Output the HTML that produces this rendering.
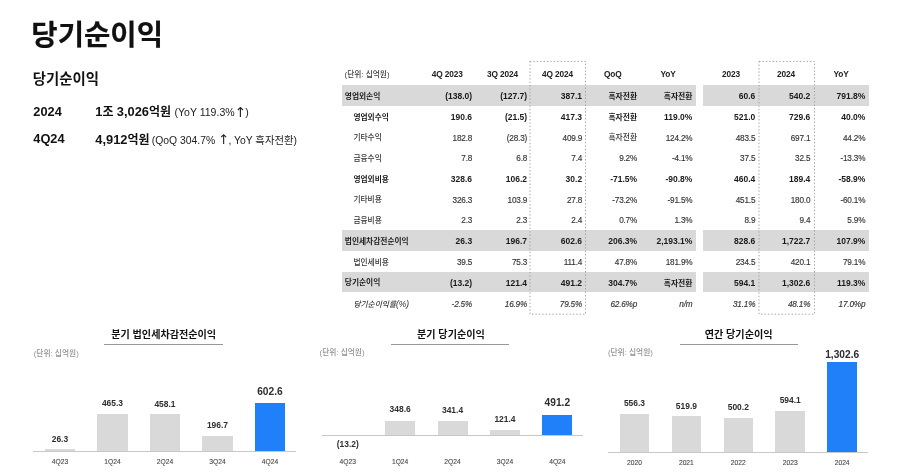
<!DOCTYPE html>
<html lang="ko"><head><meta charset="utf-8"><title>당기순이익</title>
<style>
html,body{margin:0;padding:0;background:#fff;}
body{width:900px;height:476px;position:relative;overflow:hidden;font-family:"Liberation Sans","Noto Sans CJK KR",sans-serif;-webkit-font-smoothing:antialiased;}
.t{position:absolute;white-space:nowrap;margin:0;padding:0;}
.r{position:absolute;}
.s{font-weight:400;font-size:10.55px;color:#222;}
.ar{font-family:"DejaVu Sans","Liberation Sans",sans-serif;display:inline-block;width:0.77em;text-align:center;font-size:1.3em;line-height:1;vertical-align:-0.04em;}
</style></head><body>
<div class="t" style="top:13.18px;height:45.84px;line-height:45.84px;font-size:28.65px;font-weight:700;color:#111;left:31.30px;-webkit-text-stroke:0.15px #111;">당기순이익</div>
<div class="t" style="top:68.18px;height:23.04px;line-height:23.04px;font-size:14.4px;font-weight:700;color:#111;left:32.80px;">당기순이익</div>
<div class="t" style="top:101.96px;height:20.48px;line-height:20.48px;font-size:12.8px;font-weight:700;color:#111;left:33.30px;">2024</div>
<div class="t" style="top:102.00px;height:19.2px;line-height:19.2px;font-size:12.0px;font-weight:700;color:#111;left:95.30px;"><span style="font-size:1.073em">1</span>조 <span style="font-size:1.073em">3,026</span>억원 <span class="s">(YoY 119.3%<span class="ar">↑</span>)</span></div>
<div class="t" style="top:129.16px;height:20.48px;line-height:20.48px;font-size:12.8px;font-weight:700;color:#111;left:33.30px;">4Q24</div>
<div class="t" style="top:129.80px;height:19.2px;line-height:19.2px;font-size:12.0px;font-weight:700;color:#111;left:95.30px;"><span style="font-size:1.073em">4,912</span>억원 <span class="s" style="font-size:10.38px;margin-left:-1.2px">(QoQ 304.7% <span class="ar">↑</span>, YoY 흑자전환)</span></div>
<div class="r" style="left:342.00px;top:85.15px;width:353.70px;height:20.40px;background:#d9d9d9;"></div>
<div class="r" style="left:703.20px;top:85.15px;width:165.50px;height:20.40px;background:#d9d9d9;"></div>
<div class="r" style="left:342.00px;top:230.26px;width:353.70px;height:20.40px;background:#d9d9d9;"></div>
<div class="r" style="left:703.20px;top:230.26px;width:165.50px;height:20.40px;background:#d9d9d9;"></div>
<div class="r" style="left:342.00px;top:271.72px;width:353.70px;height:20.40px;background:#d9d9d9;"></div>
<div class="r" style="left:703.20px;top:271.72px;width:165.50px;height:20.40px;background:#d9d9d9;"></div>
<div class="t" style="top:68.72px;height:12.35px;line-height:12.35px;font-size:7.72px;font-weight:500;color:#404040;left:344.60px;">(단위: 십억원)</div>
<div class="t" style="top:67.96px;height:13.28px;line-height:13.28px;font-size:8.3px;font-weight:700;color:#222;left:417.30px;width:60px;text-align:center;letter-spacing:-0.12px;">4Q 2023</div>
<div class="t" style="top:67.96px;height:13.28px;line-height:13.28px;font-size:8.3px;font-weight:700;color:#222;left:472.50px;width:60px;text-align:center;letter-spacing:-0.12px;">3Q 2024</div>
<div class="t" style="top:67.96px;height:13.28px;line-height:13.28px;font-size:8.3px;font-weight:700;color:#222;left:527.50px;width:60px;text-align:center;letter-spacing:-0.12px;">4Q 2024</div>
<div class="t" style="top:67.96px;height:13.28px;line-height:13.28px;font-size:8.3px;font-weight:700;color:#222;left:582.80px;width:60px;text-align:center;letter-spacing:-0.12px;">QoQ</div>
<div class="t" style="top:67.96px;height:13.28px;line-height:13.28px;font-size:8.3px;font-weight:700;color:#222;left:638.00px;width:60px;text-align:center;letter-spacing:-0.12px;">YoY</div>
<div class="t" style="top:67.96px;height:13.28px;line-height:13.28px;font-size:8.3px;font-weight:700;color:#222;left:701.00px;width:60px;text-align:center;letter-spacing:-0.12px;">2023</div>
<div class="t" style="top:67.96px;height:13.28px;line-height:13.28px;font-size:8.3px;font-weight:700;color:#222;left:756.00px;width:60px;text-align:center;letter-spacing:-0.12px;">2024</div>
<div class="t" style="top:67.96px;height:13.28px;line-height:13.28px;font-size:8.3px;font-weight:700;color:#222;left:811.00px;width:60px;text-align:center;letter-spacing:-0.12px;">YoY</div>
<div class="t" style="top:91.03px;height:12.35px;line-height:12.35px;font-size:7.72px;font-weight:700;color:#1a1a1a;left:344.80px;">영업외손익</div>
<div class="t" style="top:90.00px;height:13.6px;line-height:13.6px;font-size:8.5px;font-weight:700;color:#1a1a1a;right:427.90px;text-align:right;">(138.0)</div>
<div class="t" style="top:90.00px;height:13.6px;line-height:13.6px;font-size:8.5px;font-weight:700;color:#1a1a1a;right:372.90px;text-align:right;">(127.7)</div>
<div class="t" style="top:90.00px;height:13.6px;line-height:13.6px;font-size:8.5px;font-weight:700;color:#1a1a1a;right:317.90px;text-align:right;">387.1</div>
<div class="t" style="top:90.56px;height:12.48px;line-height:12.48px;font-size:7.8px;font-weight:700;color:#1a1a1a;right:262.90px;text-align:right;">흑자전환</div>
<div class="t" style="top:90.56px;height:12.48px;line-height:12.48px;font-size:7.8px;font-weight:700;color:#1a1a1a;right:207.60px;text-align:right;">흑자전환</div>
<div class="t" style="top:90.00px;height:13.6px;line-height:13.6px;font-size:8.5px;font-weight:700;color:#1a1a1a;right:144.70px;text-align:right;">60.6</div>
<div class="t" style="top:90.00px;height:13.6px;line-height:13.6px;font-size:8.5px;font-weight:700;color:#1a1a1a;right:89.70px;text-align:right;">540.2</div>
<div class="t" style="top:90.00px;height:13.6px;line-height:13.6px;font-size:8.5px;font-weight:700;color:#1a1a1a;right:34.70px;text-align:right;">791.8%</div>
<div class="t" style="top:112.01px;height:12.35px;line-height:12.35px;font-size:7.72px;font-weight:700;color:#1a1a1a;left:353.40px;">영업외수익</div>
<div class="t" style="top:110.98px;height:13.6px;line-height:13.6px;font-size:8.5px;font-weight:700;color:#1a1a1a;right:427.90px;text-align:right;">190.6</div>
<div class="t" style="top:110.98px;height:13.6px;line-height:13.6px;font-size:8.5px;font-weight:700;color:#1a1a1a;right:372.90px;text-align:right;">(21.5)</div>
<div class="t" style="top:110.98px;height:13.6px;line-height:13.6px;font-size:8.5px;font-weight:700;color:#1a1a1a;right:317.90px;text-align:right;">417.3</div>
<div class="t" style="top:111.54px;height:12.48px;line-height:12.48px;font-size:7.8px;font-weight:700;color:#1a1a1a;right:262.90px;text-align:right;">흑자전환</div>
<div class="t" style="top:110.98px;height:13.6px;line-height:13.6px;font-size:8.5px;font-weight:700;color:#1a1a1a;right:207.60px;text-align:right;">119.0%</div>
<div class="t" style="top:110.98px;height:13.6px;line-height:13.6px;font-size:8.5px;font-weight:700;color:#1a1a1a;right:144.70px;text-align:right;">521.0</div>
<div class="t" style="top:110.98px;height:13.6px;line-height:13.6px;font-size:8.5px;font-weight:700;color:#1a1a1a;right:89.70px;text-align:right;">729.6</div>
<div class="t" style="top:110.98px;height:13.6px;line-height:13.6px;font-size:8.5px;font-weight:700;color:#1a1a1a;right:34.70px;text-align:right;">40.0%</div>
<div class="t" style="top:131.98px;height:12.35px;line-height:12.35px;font-size:7.72px;font-weight:500;color:#363636;left:353.40px;">기타수익</div>
<div class="t" style="top:131.95px;height:13.12px;line-height:13.12px;font-size:8.2px;font-weight:400;color:#363636;right:427.90px;text-align:right;-webkit-text-stroke:0.15px #363636;letter-spacing:-0.18px;">182.8</div>
<div class="t" style="top:131.95px;height:13.12px;line-height:13.12px;font-size:8.2px;font-weight:400;color:#363636;right:372.90px;text-align:right;-webkit-text-stroke:0.15px #363636;letter-spacing:-0.18px;">(28.3)</div>
<div class="t" style="top:131.95px;height:13.12px;line-height:13.12px;font-size:8.2px;font-weight:400;color:#363636;right:317.90px;text-align:right;-webkit-text-stroke:0.15px #363636;letter-spacing:-0.18px;">409.9</div>
<div class="t" style="top:132.27px;height:12.48px;line-height:12.48px;font-size:7.8px;font-weight:500;color:#363636;right:262.90px;text-align:right;">흑자전환</div>
<div class="t" style="top:131.95px;height:13.12px;line-height:13.12px;font-size:8.2px;font-weight:400;color:#363636;right:207.60px;text-align:right;-webkit-text-stroke:0.15px #363636;letter-spacing:-0.18px;">124.2%</div>
<div class="t" style="top:131.95px;height:13.12px;line-height:13.12px;font-size:8.2px;font-weight:400;color:#363636;right:144.70px;text-align:right;-webkit-text-stroke:0.15px #363636;letter-spacing:-0.18px;">483.5</div>
<div class="t" style="top:131.95px;height:13.12px;line-height:13.12px;font-size:8.2px;font-weight:400;color:#363636;right:89.70px;text-align:right;-webkit-text-stroke:0.15px #363636;letter-spacing:-0.18px;">697.1</div>
<div class="t" style="top:131.95px;height:13.12px;line-height:13.12px;font-size:8.2px;font-weight:400;color:#363636;right:34.70px;text-align:right;-webkit-text-stroke:0.15px #363636;letter-spacing:-0.18px;">44.2%</div>
<div class="t" style="top:152.96px;height:12.35px;line-height:12.35px;font-size:7.72px;font-weight:500;color:#363636;left:353.40px;">금융수익</div>
<div class="t" style="top:151.93px;height:13.12px;line-height:13.12px;font-size:8.2px;font-weight:400;color:#363636;right:427.90px;text-align:right;-webkit-text-stroke:0.15px #363636;letter-spacing:-0.18px;">7.8</div>
<div class="t" style="top:151.93px;height:13.12px;line-height:13.12px;font-size:8.2px;font-weight:400;color:#363636;right:372.90px;text-align:right;-webkit-text-stroke:0.15px #363636;letter-spacing:-0.18px;">6.8</div>
<div class="t" style="top:151.93px;height:13.12px;line-height:13.12px;font-size:8.2px;font-weight:400;color:#363636;right:317.90px;text-align:right;-webkit-text-stroke:0.15px #363636;letter-spacing:-0.18px;">7.4</div>
<div class="t" style="top:151.93px;height:13.12px;line-height:13.12px;font-size:8.2px;font-weight:400;color:#363636;right:262.90px;text-align:right;-webkit-text-stroke:0.15px #363636;letter-spacing:-0.18px;">9.2%</div>
<div class="t" style="top:151.93px;height:13.12px;line-height:13.12px;font-size:8.2px;font-weight:400;color:#363636;right:207.60px;text-align:right;-webkit-text-stroke:0.15px #363636;letter-spacing:-0.18px;">-4.1%</div>
<div class="t" style="top:151.93px;height:13.12px;line-height:13.12px;font-size:8.2px;font-weight:400;color:#363636;right:144.70px;text-align:right;-webkit-text-stroke:0.15px #363636;letter-spacing:-0.18px;">37.5</div>
<div class="t" style="top:151.93px;height:13.12px;line-height:13.12px;font-size:8.2px;font-weight:400;color:#363636;right:89.70px;text-align:right;-webkit-text-stroke:0.15px #363636;letter-spacing:-0.18px;">32.5</div>
<div class="t" style="top:151.93px;height:13.12px;line-height:13.12px;font-size:8.2px;font-weight:400;color:#363636;right:34.70px;text-align:right;-webkit-text-stroke:0.15px #363636;letter-spacing:-0.18px;">-13.3%</div>
<div class="t" style="top:173.94px;height:12.35px;line-height:12.35px;font-size:7.72px;font-weight:700;color:#1a1a1a;left:353.40px;">영업외비용</div>
<div class="t" style="top:172.92px;height:13.6px;line-height:13.6px;font-size:8.5px;font-weight:700;color:#1a1a1a;right:427.90px;text-align:right;">328.6</div>
<div class="t" style="top:172.92px;height:13.6px;line-height:13.6px;font-size:8.5px;font-weight:700;color:#1a1a1a;right:372.90px;text-align:right;">106.2</div>
<div class="t" style="top:172.92px;height:13.6px;line-height:13.6px;font-size:8.5px;font-weight:700;color:#1a1a1a;right:317.90px;text-align:right;">30.2</div>
<div class="t" style="top:172.92px;height:13.6px;line-height:13.6px;font-size:8.5px;font-weight:700;color:#1a1a1a;right:262.90px;text-align:right;">-71.5%</div>
<div class="t" style="top:172.92px;height:13.6px;line-height:13.6px;font-size:8.5px;font-weight:700;color:#1a1a1a;right:207.60px;text-align:right;">-90.8%</div>
<div class="t" style="top:172.92px;height:13.6px;line-height:13.6px;font-size:8.5px;font-weight:700;color:#1a1a1a;right:144.70px;text-align:right;">460.4</div>
<div class="t" style="top:172.92px;height:13.6px;line-height:13.6px;font-size:8.5px;font-weight:700;color:#1a1a1a;right:89.70px;text-align:right;">189.4</div>
<div class="t" style="top:172.92px;height:13.6px;line-height:13.6px;font-size:8.5px;font-weight:700;color:#1a1a1a;right:34.70px;text-align:right;">-58.9%</div>
<div class="t" style="top:193.92px;height:12.35px;line-height:12.35px;font-size:7.72px;font-weight:500;color:#363636;left:353.40px;">기타비용</div>
<div class="t" style="top:193.89px;height:13.12px;line-height:13.12px;font-size:8.2px;font-weight:400;color:#363636;right:427.90px;text-align:right;-webkit-text-stroke:0.15px #363636;letter-spacing:-0.18px;">326.3</div>
<div class="t" style="top:193.89px;height:13.12px;line-height:13.12px;font-size:8.2px;font-weight:400;color:#363636;right:372.90px;text-align:right;-webkit-text-stroke:0.15px #363636;letter-spacing:-0.18px;">103.9</div>
<div class="t" style="top:193.89px;height:13.12px;line-height:13.12px;font-size:8.2px;font-weight:400;color:#363636;right:317.90px;text-align:right;-webkit-text-stroke:0.15px #363636;letter-spacing:-0.18px;">27.8</div>
<div class="t" style="top:193.89px;height:13.12px;line-height:13.12px;font-size:8.2px;font-weight:400;color:#363636;right:262.90px;text-align:right;-webkit-text-stroke:0.15px #363636;letter-spacing:-0.18px;">-73.2%</div>
<div class="t" style="top:193.89px;height:13.12px;line-height:13.12px;font-size:8.2px;font-weight:400;color:#363636;right:207.60px;text-align:right;-webkit-text-stroke:0.15px #363636;letter-spacing:-0.18px;">-91.5%</div>
<div class="t" style="top:193.89px;height:13.12px;line-height:13.12px;font-size:8.2px;font-weight:400;color:#363636;right:144.70px;text-align:right;-webkit-text-stroke:0.15px #363636;letter-spacing:-0.18px;">451.5</div>
<div class="t" style="top:193.89px;height:13.12px;line-height:13.12px;font-size:8.2px;font-weight:400;color:#363636;right:89.70px;text-align:right;-webkit-text-stroke:0.15px #363636;letter-spacing:-0.18px;">180.0</div>
<div class="t" style="top:193.89px;height:13.12px;line-height:13.12px;font-size:8.2px;font-weight:400;color:#363636;right:34.70px;text-align:right;-webkit-text-stroke:0.15px #363636;letter-spacing:-0.18px;">-60.1%</div>
<div class="t" style="top:214.90px;height:12.35px;line-height:12.35px;font-size:7.72px;font-weight:500;color:#363636;left:353.40px;">금융비용</div>
<div class="t" style="top:213.87px;height:13.12px;line-height:13.12px;font-size:8.2px;font-weight:400;color:#363636;right:427.90px;text-align:right;-webkit-text-stroke:0.15px #363636;letter-spacing:-0.18px;">2.3</div>
<div class="t" style="top:213.87px;height:13.12px;line-height:13.12px;font-size:8.2px;font-weight:400;color:#363636;right:372.90px;text-align:right;-webkit-text-stroke:0.15px #363636;letter-spacing:-0.18px;">2.3</div>
<div class="t" style="top:213.87px;height:13.12px;line-height:13.12px;font-size:8.2px;font-weight:400;color:#363636;right:317.90px;text-align:right;-webkit-text-stroke:0.15px #363636;letter-spacing:-0.18px;">2.4</div>
<div class="t" style="top:213.87px;height:13.12px;line-height:13.12px;font-size:8.2px;font-weight:400;color:#363636;right:262.90px;text-align:right;-webkit-text-stroke:0.15px #363636;letter-spacing:-0.18px;">0.7%</div>
<div class="t" style="top:213.87px;height:13.12px;line-height:13.12px;font-size:8.2px;font-weight:400;color:#363636;right:207.60px;text-align:right;-webkit-text-stroke:0.15px #363636;letter-spacing:-0.18px;">1.3%</div>
<div class="t" style="top:213.87px;height:13.12px;line-height:13.12px;font-size:8.2px;font-weight:400;color:#363636;right:144.70px;text-align:right;-webkit-text-stroke:0.15px #363636;letter-spacing:-0.18px;">8.9</div>
<div class="t" style="top:213.87px;height:13.12px;line-height:13.12px;font-size:8.2px;font-weight:400;color:#363636;right:89.70px;text-align:right;-webkit-text-stroke:0.15px #363636;letter-spacing:-0.18px;">9.4</div>
<div class="t" style="top:213.87px;height:13.12px;line-height:13.12px;font-size:8.2px;font-weight:400;color:#363636;right:34.70px;text-align:right;-webkit-text-stroke:0.15px #363636;letter-spacing:-0.18px;">5.9%</div>
<div class="t" style="top:235.88px;height:12.35px;line-height:12.35px;font-size:7.72px;font-weight:700;color:#1a1a1a;left:344.80px;">법인세차감전순이익</div>
<div class="t" style="top:234.86px;height:13.6px;line-height:13.6px;font-size:8.5px;font-weight:700;color:#1a1a1a;right:427.90px;text-align:right;">26.3</div>
<div class="t" style="top:234.86px;height:13.6px;line-height:13.6px;font-size:8.5px;font-weight:700;color:#1a1a1a;right:372.90px;text-align:right;">196.7</div>
<div class="t" style="top:234.86px;height:13.6px;line-height:13.6px;font-size:8.5px;font-weight:700;color:#1a1a1a;right:317.90px;text-align:right;">602.6</div>
<div class="t" style="top:234.86px;height:13.6px;line-height:13.6px;font-size:8.5px;font-weight:700;color:#1a1a1a;right:262.90px;text-align:right;">206.3%</div>
<div class="t" style="top:234.86px;height:13.6px;line-height:13.6px;font-size:8.5px;font-weight:700;color:#1a1a1a;right:207.60px;text-align:right;">2,193.1%</div>
<div class="t" style="top:234.86px;height:13.6px;line-height:13.6px;font-size:8.5px;font-weight:700;color:#1a1a1a;right:144.70px;text-align:right;">828.6</div>
<div class="t" style="top:234.86px;height:13.6px;line-height:13.6px;font-size:8.5px;font-weight:700;color:#1a1a1a;right:89.70px;text-align:right;">1,722.7</div>
<div class="t" style="top:234.86px;height:13.6px;line-height:13.6px;font-size:8.5px;font-weight:700;color:#1a1a1a;right:34.70px;text-align:right;">107.9%</div>
<div class="t" style="top:256.87px;height:12.35px;line-height:12.35px;font-size:7.72px;font-weight:500;color:#363636;left:353.40px;">법인세비용</div>
<div class="t" style="top:256.08px;height:13.12px;line-height:13.12px;font-size:8.2px;font-weight:400;color:#363636;right:427.90px;text-align:right;-webkit-text-stroke:0.15px #363636;letter-spacing:-0.18px;">39.5</div>
<div class="t" style="top:256.08px;height:13.12px;line-height:13.12px;font-size:8.2px;font-weight:400;color:#363636;right:372.90px;text-align:right;-webkit-text-stroke:0.15px #363636;letter-spacing:-0.18px;">75.3</div>
<div class="t" style="top:256.08px;height:13.12px;line-height:13.12px;font-size:8.2px;font-weight:400;color:#363636;right:317.90px;text-align:right;-webkit-text-stroke:0.15px #363636;letter-spacing:-0.18px;">111.4</div>
<div class="t" style="top:256.08px;height:13.12px;line-height:13.12px;font-size:8.2px;font-weight:400;color:#363636;right:262.90px;text-align:right;-webkit-text-stroke:0.15px #363636;letter-spacing:-0.18px;">47.8%</div>
<div class="t" style="top:256.08px;height:13.12px;line-height:13.12px;font-size:8.2px;font-weight:400;color:#363636;right:207.60px;text-align:right;-webkit-text-stroke:0.15px #363636;letter-spacing:-0.18px;">181.9%</div>
<div class="t" style="top:256.08px;height:13.12px;line-height:13.12px;font-size:8.2px;font-weight:400;color:#363636;right:144.70px;text-align:right;-webkit-text-stroke:0.15px #363636;letter-spacing:-0.18px;">234.5</div>
<div class="t" style="top:256.08px;height:13.12px;line-height:13.12px;font-size:8.2px;font-weight:400;color:#363636;right:89.70px;text-align:right;-webkit-text-stroke:0.15px #363636;letter-spacing:-0.18px;">420.1</div>
<div class="t" style="top:256.08px;height:13.12px;line-height:13.12px;font-size:8.2px;font-weight:400;color:#363636;right:34.70px;text-align:right;-webkit-text-stroke:0.15px #363636;letter-spacing:-0.18px;">79.1%</div>
<div class="t" style="top:276.85px;height:12.35px;line-height:12.35px;font-size:7.72px;font-weight:700;color:#1a1a1a;left:344.80px;">당기순이익</div>
<div class="t" style="top:277.07px;height:13.6px;line-height:13.6px;font-size:8.5px;font-weight:700;color:#1a1a1a;right:427.90px;text-align:right;">(13.2)</div>
<div class="t" style="top:277.07px;height:13.6px;line-height:13.6px;font-size:8.5px;font-weight:700;color:#1a1a1a;right:372.90px;text-align:right;">121.4</div>
<div class="t" style="top:277.07px;height:13.6px;line-height:13.6px;font-size:8.5px;font-weight:700;color:#1a1a1a;right:317.90px;text-align:right;">491.2</div>
<div class="t" style="top:277.07px;height:13.6px;line-height:13.6px;font-size:8.5px;font-weight:700;color:#1a1a1a;right:262.90px;text-align:right;">304.7%</div>
<div class="t" style="top:277.63px;height:12.48px;line-height:12.48px;font-size:7.8px;font-weight:700;color:#1a1a1a;right:207.60px;text-align:right;">흑자전환</div>
<div class="t" style="top:277.07px;height:13.6px;line-height:13.6px;font-size:8.5px;font-weight:700;color:#1a1a1a;right:144.70px;text-align:right;">594.1</div>
<div class="t" style="top:277.07px;height:13.6px;line-height:13.6px;font-size:8.5px;font-weight:700;color:#1a1a1a;right:89.70px;text-align:right;">1,302.6</div>
<div class="t" style="top:277.07px;height:13.6px;line-height:13.6px;font-size:8.5px;font-weight:700;color:#1a1a1a;right:34.70px;text-align:right;">119.3%</div>
<div class="t" style="top:298.08px;height:12.35px;line-height:12.35px;font-size:7.72px;font-weight:500;color:#363636;font-style:italic;left:353.40px;">당기순이익률<span style="font-size:1.1em">(%)</span></div>
<div class="t" style="top:298.04px;height:13.12px;line-height:13.12px;font-size:8.2px;font-weight:400;color:#363636;font-style:italic;right:427.90px;text-align:right;-webkit-text-stroke:0.15px #363636;letter-spacing:-0.18px;">-2.5%</div>
<div class="t" style="top:298.04px;height:13.12px;line-height:13.12px;font-size:8.2px;font-weight:400;color:#363636;font-style:italic;right:372.90px;text-align:right;-webkit-text-stroke:0.15px #363636;letter-spacing:-0.18px;">16.9%</div>
<div class="t" style="top:298.04px;height:13.12px;line-height:13.12px;font-size:8.2px;font-weight:400;color:#363636;font-style:italic;right:317.90px;text-align:right;-webkit-text-stroke:0.15px #363636;letter-spacing:-0.18px;">79.5%</div>
<div class="t" style="top:298.04px;height:13.12px;line-height:13.12px;font-size:8.2px;font-weight:400;color:#363636;font-style:italic;right:262.90px;text-align:right;-webkit-text-stroke:0.15px #363636;letter-spacing:-0.18px;">62.6%p</div>
<div class="t" style="top:298.04px;height:13.12px;line-height:13.12px;font-size:8.2px;font-weight:400;color:#363636;font-style:italic;right:207.60px;text-align:right;-webkit-text-stroke:0.15px #363636;letter-spacing:-0.18px;">n/m</div>
<div class="t" style="top:298.04px;height:13.12px;line-height:13.12px;font-size:8.2px;font-weight:400;color:#363636;font-style:italic;right:144.70px;text-align:right;-webkit-text-stroke:0.15px #363636;letter-spacing:-0.18px;">31.1%</div>
<div class="t" style="top:298.04px;height:13.12px;line-height:13.12px;font-size:8.2px;font-weight:400;color:#363636;font-style:italic;right:89.70px;text-align:right;-webkit-text-stroke:0.15px #363636;letter-spacing:-0.18px;">48.1%</div>
<div class="t" style="top:298.04px;height:13.12px;line-height:13.12px;font-size:8.2px;font-weight:400;color:#363636;font-style:italic;right:34.70px;text-align:right;-webkit-text-stroke:0.15px #363636;letter-spacing:-0.18px;">17.0%p</div>
<svg class="r" style="left:528.0px;top:59px;width:60px;height:258px" viewBox="0 0 60 258"><rect x="2" y="2.4" width="55.5" height="252.8" fill="none" stroke="#9c9c9c" stroke-width="0.9" stroke-dasharray="1.4 2"/></svg>
<svg class="r" style="left:756.7px;top:59px;width:60px;height:258px" viewBox="0 0 60 258"><rect x="2" y="2.4" width="55.5" height="252.8" fill="none" stroke="#9c9c9c" stroke-width="0.9" stroke-dasharray="1.4 2"/></svg>
<div class="t" style="top:327.32px;height:16.16px;line-height:16.16px;font-size:10.1px;font-weight:700;color:#111;left:63.70px;width:200px;text-align:center;">분기 법인세차감전순이익</div>
<div class="r" style="left:104.40px;top:344.20px;width:118.50px;height:0.80px;background:#989898;"></div>
<div class="t" style="top:347.62px;height:12.35px;line-height:12.35px;font-size:7.72px;font-weight:500;color:#909090;left:33.80px;">(단위: 십억원)</div>
<div class="r" style="left:44.80px;top:449.28px;width:30.30px;height:2.12px;background:#d9d9d9;"></div>
<div class="t" style="top:433.04px;height:13.52px;line-height:13.52px;font-size:8.45px;font-weight:700;color:#2e2e2e;left:19.95px;width:80px;text-align:center;">26.3</div>
<div class="t" style="top:457.34px;height:10.72px;line-height:10.72px;font-size:6.7px;font-weight:400;color:#4a4a4a;left:29.95px;width:60px;text-align:center;-webkit-text-stroke:0.12px #4a4a4a;">4Q23</div>
<div class="r" style="left:97.30px;top:413.85px;width:30.30px;height:37.55px;background:#d9d9d9;"></div>
<div class="t" style="top:397.24px;height:13.52px;line-height:13.52px;font-size:8.45px;font-weight:700;color:#2e2e2e;left:72.45px;width:80px;text-align:center;">465.3</div>
<div class="t" style="top:457.34px;height:10.72px;line-height:10.72px;font-size:6.7px;font-weight:400;color:#4a4a4a;left:82.45px;width:60px;text-align:center;-webkit-text-stroke:0.12px #4a4a4a;">1Q24</div>
<div class="r" style="left:149.80px;top:414.43px;width:30.30px;height:36.97px;background:#d9d9d9;"></div>
<div class="t" style="top:398.24px;height:13.52px;line-height:13.52px;font-size:8.45px;font-weight:700;color:#2e2e2e;left:124.95px;width:80px;text-align:center;">458.1</div>
<div class="t" style="top:457.34px;height:10.72px;line-height:10.72px;font-size:6.7px;font-weight:400;color:#4a4a4a;left:134.95px;width:60px;text-align:center;-webkit-text-stroke:0.12px #4a4a4a;">2Q24</div>
<div class="r" style="left:202.30px;top:435.53px;width:30.30px;height:15.87px;background:#d9d9d9;"></div>
<div class="t" style="top:419.24px;height:13.52px;line-height:13.52px;font-size:8.45px;font-weight:700;color:#2e2e2e;left:177.45px;width:80px;text-align:center;">196.7</div>
<div class="t" style="top:457.34px;height:10.72px;line-height:10.72px;font-size:6.7px;font-weight:400;color:#4a4a4a;left:187.45px;width:60px;text-align:center;-webkit-text-stroke:0.12px #4a4a4a;">3Q24</div>
<div class="r" style="left:254.80px;top:402.77px;width:30.30px;height:48.63px;background:#1f80fa;"></div>
<div class="t" style="top:383.84px;height:16.32px;line-height:16.32px;font-size:10.2px;font-weight:700;color:#2e2e2e;left:229.95px;width:80px;text-align:center;">602.6</div>
<div class="t" style="top:457.34px;height:10.72px;line-height:10.72px;font-size:6.7px;font-weight:400;color:#4a4a4a;left:239.95px;width:60px;text-align:center;-webkit-text-stroke:0.12px #4a4a4a;">4Q24</div>
<div class="r" style="left:33.40px;top:451.00px;width:262.80px;height:0.90px;background:#c8c8c8;"></div>
<div class="t" style="top:326.92px;height:16.16px;line-height:16.16px;font-size:10.1px;font-weight:700;color:#111;left:350.90px;width:200px;text-align:center;">분기 당기순이익</div>
<div class="r" style="left:391.30px;top:343.60px;width:118.10px;height:0.80px;background:#989898;"></div>
<div class="t" style="top:346.92px;height:12.35px;line-height:12.35px;font-size:7.72px;font-weight:500;color:#909090;left:319.60px;">(단위: 십억원)</div>
<div class="t" style="top:437.74px;height:13.52px;line-height:13.52px;font-size:8.45px;font-weight:700;color:#2e2e2e;left:307.75px;width:80px;text-align:center;">(13.2)</div>
<div class="t" style="top:457.34px;height:10.72px;line-height:10.72px;font-size:6.7px;font-weight:400;color:#4a4a4a;left:317.75px;width:60px;text-align:center;-webkit-text-stroke:0.12px #4a4a4a;">4Q23</div>
<div class="r" style="left:385.10px;top:421.10px;width:30.10px;height:14.40px;background:#d9d9d9;"></div>
<div class="t" style="top:403.44px;height:13.52px;line-height:13.52px;font-size:8.45px;font-weight:700;color:#2e2e2e;left:360.15px;width:80px;text-align:center;">348.6</div>
<div class="t" style="top:457.34px;height:10.72px;line-height:10.72px;font-size:6.7px;font-weight:400;color:#4a4a4a;left:370.15px;width:60px;text-align:center;-webkit-text-stroke:0.12px #4a4a4a;">1Q24</div>
<div class="r" style="left:437.50px;top:421.40px;width:30.10px;height:14.10px;background:#d9d9d9;"></div>
<div class="t" style="top:403.74px;height:13.52px;line-height:13.52px;font-size:8.45px;font-weight:700;color:#2e2e2e;left:412.55px;width:80px;text-align:center;">341.4</div>
<div class="t" style="top:457.34px;height:10.72px;line-height:10.72px;font-size:6.7px;font-weight:400;color:#4a4a4a;left:422.55px;width:60px;text-align:center;-webkit-text-stroke:0.12px #4a4a4a;">2Q24</div>
<div class="r" style="left:489.90px;top:430.49px;width:30.10px;height:5.01px;background:#d9d9d9;"></div>
<div class="t" style="top:412.74px;height:13.52px;line-height:13.52px;font-size:8.45px;font-weight:700;color:#2e2e2e;left:464.95px;width:80px;text-align:center;">121.4</div>
<div class="t" style="top:457.34px;height:10.72px;line-height:10.72px;font-size:6.7px;font-weight:400;color:#4a4a4a;left:474.95px;width:60px;text-align:center;-webkit-text-stroke:0.12px #4a4a4a;">3Q24</div>
<div class="r" style="left:542.30px;top:415.21px;width:30.10px;height:20.29px;background:#1f80fa;"></div>
<div class="t" style="top:395.14px;height:16.32px;line-height:16.32px;font-size:10.2px;font-weight:700;color:#2e2e2e;left:517.35px;width:80px;text-align:center;">491.2</div>
<div class="t" style="top:457.34px;height:10.72px;line-height:10.72px;font-size:6.7px;font-weight:400;color:#4a4a4a;left:527.35px;width:60px;text-align:center;-webkit-text-stroke:0.12px #4a4a4a;">4Q24</div>
<div class="r" style="left:321.70px;top:435.10px;width:261.50px;height:0.90px;background:#c8c8c8;"></div>
<div class="t" style="top:326.92px;height:16.16px;line-height:16.16px;font-size:10.1px;font-weight:700;color:#111;left:638.60px;width:200px;text-align:center;">연간 당기순이익</div>
<div class="r" style="left:679.60px;top:343.60px;width:118.10px;height:0.80px;background:#989898;"></div>
<div class="t" style="top:347.42px;height:12.35px;line-height:12.35px;font-size:7.72px;font-weight:500;color:#909090;left:607.90px;">(단위: 십억원)</div>
<div class="r" style="left:619.65px;top:413.83px;width:29.60px;height:38.27px;background:#d9d9d9;"></div>
<div class="t" style="top:396.84px;height:13.52px;line-height:13.52px;font-size:8.45px;font-weight:700;color:#2e2e2e;left:594.45px;width:80px;text-align:center;">556.3</div>
<div class="t" style="top:458.34px;height:10.72px;line-height:10.72px;font-size:6.7px;font-weight:400;color:#4a4a4a;left:604.45px;width:60px;text-align:center;-webkit-text-stroke:0.12px #4a4a4a;">2020</div>
<div class="r" style="left:671.58px;top:416.33px;width:29.60px;height:35.77px;background:#d9d9d9;"></div>
<div class="t" style="top:399.64px;height:13.52px;line-height:13.52px;font-size:8.45px;font-weight:700;color:#2e2e2e;left:646.38px;width:80px;text-align:center;">519.9</div>
<div class="t" style="top:458.34px;height:10.72px;line-height:10.72px;font-size:6.7px;font-weight:400;color:#4a4a4a;left:656.38px;width:60px;text-align:center;-webkit-text-stroke:0.12px #4a4a4a;">2021</div>
<div class="r" style="left:723.51px;top:417.69px;width:29.60px;height:34.41px;background:#d9d9d9;"></div>
<div class="t" style="top:401.34px;height:13.52px;line-height:13.52px;font-size:8.45px;font-weight:700;color:#2e2e2e;left:698.31px;width:80px;text-align:center;">500.2</div>
<div class="t" style="top:458.34px;height:10.72px;line-height:10.72px;font-size:6.7px;font-weight:400;color:#4a4a4a;left:708.31px;width:60px;text-align:center;-webkit-text-stroke:0.12px #4a4a4a;">2022</div>
<div class="r" style="left:775.44px;top:411.23px;width:29.60px;height:40.87px;background:#d9d9d9;"></div>
<div class="t" style="top:394.04px;height:13.52px;line-height:13.52px;font-size:8.45px;font-weight:700;color:#2e2e2e;left:750.24px;width:80px;text-align:center;">594.1</div>
<div class="t" style="top:458.34px;height:10.72px;line-height:10.72px;font-size:6.7px;font-weight:400;color:#4a4a4a;left:760.24px;width:60px;text-align:center;-webkit-text-stroke:0.12px #4a4a4a;">2023</div>
<div class="r" style="left:827.37px;top:362.48px;width:29.60px;height:89.62px;background:#1f80fa;"></div>
<div class="t" style="top:347.34px;height:16.32px;line-height:16.32px;font-size:10.2px;font-weight:700;color:#2e2e2e;left:802.17px;width:80px;text-align:center;">1,302.6</div>
<div class="t" style="top:458.34px;height:10.72px;line-height:10.72px;font-size:6.7px;font-weight:400;color:#4a4a4a;left:812.17px;width:60px;text-align:center;-webkit-text-stroke:0.12px #4a4a4a;">2024</div>
<div class="r" style="left:607.90px;top:451.70px;width:260.40px;height:0.90px;background:#c8c8c8;"></div>
</body></html>
